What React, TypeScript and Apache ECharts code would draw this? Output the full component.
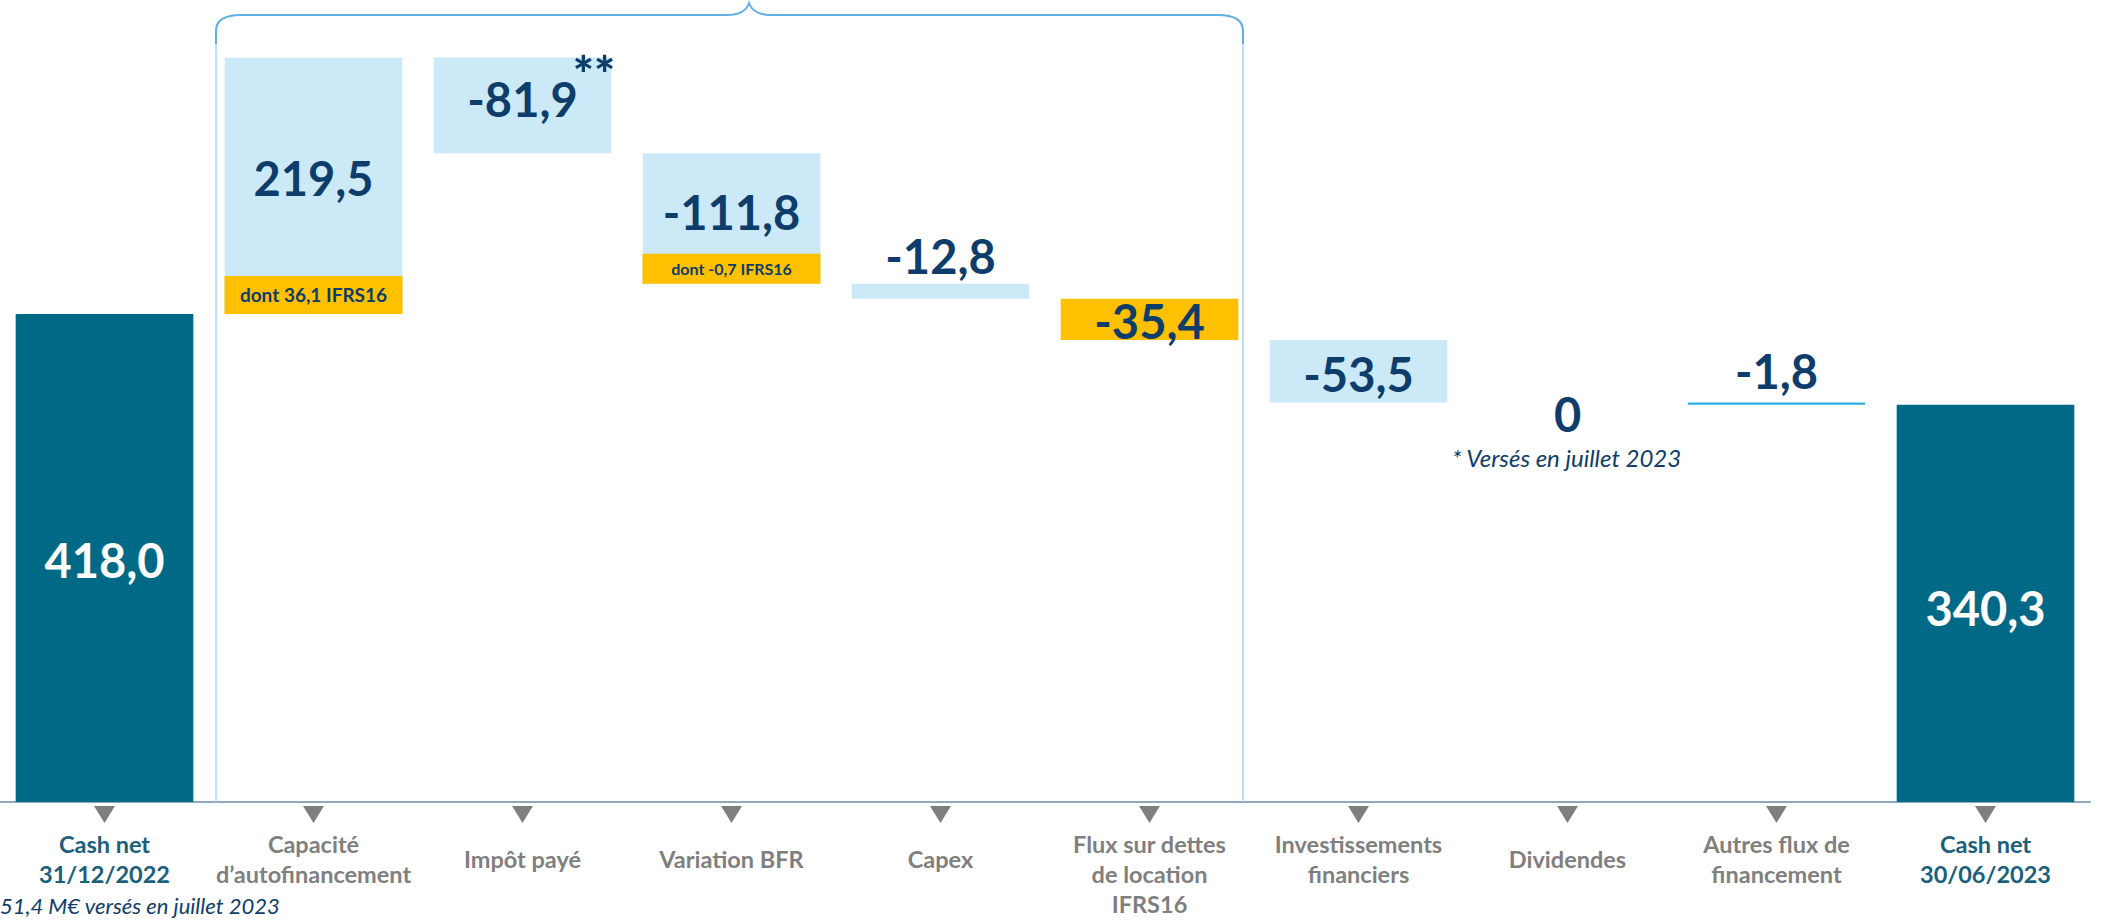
import React, { useEffect, useRef } from 'react';
import * as echarts from 'echarts';

// ---------- data ----------
const categories = [
  'Cash net\n31/12/2022',
  'Capacité\nd’autofinancement',
  'Impôt payé',
  'Variation BFR',
  'Capex',
  'Flux sur dettes\nde location\nIFRS16',
  'Investissements\nfinanciers',
  'Dividendes',
  'Autres flux de\nfinancement',
  'Cash net\n30/06/2023',
];
const values = [418.0, 219.5, -81.9, -111.8, -12.8, -35.4, -53.5, 0, -1.8, 340.3];
const isTotal = [true, false, false, false, false, false, false, false, false, true];
const barKinds = ['total', 'flow', 'flow', 'flow', 'flow', 'ifrs', 'flow', 'none', 'line', 'total'];
const ifrsNotes = ['', 'dont 36,1 IFRS16', '', 'dont -0,7 IFRS16', '', '', '', '', '', ''];

// ---------- styles ----------
const FONT = 'Lato, "Noto Sans", sans-serif';
const TEAL = '#006A86';
const LIGHT = '#CBE9F7';
const YELLOW = '#FFC000';
const LINEBLUE = '#29ABE2';
const NAVY = '#0E3D6B';
const GREY = '#7F7F7F';
const TEAL_TXT = '#1A5F7C';

const fmt = (v: number) => (v === 0 ? '0' : v.toFixed(1).replace('.', ','));

const BRACE_TOP_D =
  'M216 44 L216 31 Q216 15 241 15 L727 15 Q745 15 749 3 Q753 15 771 15 L1218 15 Q1243 15 1243 31 L1243 44';

let registered = false;

export default function App() {
  const ref = useRef<HTMLDivElement>(null);

  useEffect(() => {
    document.body.style.margin = '0';
    if (!registered) {
      echarts.graphic.registerShape('bracetop', echarts.graphic.extendPath(BRACE_TOP_D, {}) as any);
      registered = true;
    }
    const chart = echarts.init(ref.current!, undefined, { renderer: 'svg' });

    // waterfall geometry
    let running = 0;
    const bases: number[] = [];
    const heights: number[] = [];
    values.forEach((v, i) => {
      if (isTotal[i]) {
        bases.push(0);
        heights.push(v);
        running = v;
      } else {
        const next = running + v;
        bases.push(Math.min(running, next));
        heights.push(Math.abs(v));
        running = next;
      }
    });

    const colorOf = (k: string) =>
      k === 'total' ? TEAL : k === 'ifrs' ? YELLOW : k === 'line' ? LINEBLUE : k === 'none' ? 'transparent' : LIGHT;

    // label placement per category
    const placement: any[] = [
      { position: 'inside', offset: [0, 2] },
      { position: 'inside', offset: [0, -8] },
      { position: 'inside', offset: [0, -6] },
      { position: 'inside', offset: [0, -7] },
      { position: 'top', distance: 4 },
      { position: 'inside', offset: [0, 2] },
      { position: 'inside', offset: [0, 3] },
      { position: 'inside', offset: [0, 11] },
      { position: 'top', distance: 8 },
      { position: 'inside', offset: [0, 5] },
    ];

    const visibleData = heights.map((h, i) => ({
      value: h,
      itemStyle: {
        color: colorOf(barKinds[i]),
        borderColor: barKinds[i] === 'line' ? LINEBLUE : 'transparent',
        borderWidth: barKinds[i] === 'line' ? 1 : 0,
      },
      label: {
        show: true,
        ...placement[i],
        formatter: fmt(values[i]),
        color: isTotal[i] ? '#FFFFFF' : NAVY,
        fontFamily: FONT,
        fontWeight: 'bold',
        fontSize: 47,
      },
    }));

    const baseData = bases.map((b, i) => ({
      value: b,
      label: ifrsNotes[i]
        ? {
            show: true,
            position: 'top',
            distance: 0,
            formatter: ifrsNotes[i],
            backgroundColor: YELLOW,
            width: 178,
            height: i === 1 ? 38 : 30,
            lineHeight: i === 1 ? 38 : 30,
            align: 'center',
            color: NAVY,
            fontFamily: FONT,
            fontWeight: 'bold',
            fontSize: i === 1 ? 19 : 16,
          }
        : { show: false },
    }));

    const textStyleBase = { fontFamily: FONT, fontWeight: 'bold', fontSize: 23.5 };

    chart.setOption({
      animation: false,
      grid: { left: -3, right: 12, top: 8, bottom: 118, containLabel: false },
      xAxis: {
        type: 'category',
        data: categories,
        axisLine: { show: true, lineStyle: { color: '#8FA7BF', width: 2 } },
        axisTick: { show: false },
        axisLabel: {
          interval: 0,
          margin: 27,
          formatter: (val: string, idx: number) => {
            const lines = val.split('\n');
            const key = isTotal[idx] ? 't' : 'g';
            if (lines.length === 1) return `{${key}1|${lines[0]}}`;
            return lines.map((l) => `{${key}|${l}}`).join('\n');
          },
          rich: {
            g: { ...textStyleBase, color: GREY, lineHeight: 30 },
            g1: { ...textStyleBase, color: GREY, lineHeight: 60 },
            t: { ...textStyleBase, color: TEAL_TXT, lineHeight: 30 },
            t1: { ...textStyleBase, color: TEAL_TXT, lineHeight: 60 },
          },
        },
      },
      yAxis: { type: 'value', min: 0, max: 680, show: false, splitLine: { show: false } },
      series: [
        {
          type: 'bar',
          stack: 'w',
          barWidth: '85%',
          z: 3,
          itemStyle: { color: 'transparent' },
          data: baseData,
          silent: true,
        },
        {
          type: 'bar',
          stack: 'w',
          barWidth: '85%',
          z: 2,
          data: visibleData,
        },
        {
          type: 'custom',
          silent: true,
          clip: false,
          z: 5,
          data: categories.map((_, i) => [i, 0]),
          renderItem: (_p: any, api: any) => {
            const p = api.coord([api.value(0), 0]);
            return {
              type: 'polygon',
              shape: {
                points: [
                  [p[0] - 10.5, p[1] + 4],
                  [p[0] + 10.5, p[1] + 4],
                  [p[0], p[1] + 21],
                ],
              },
              style: { fill: GREY },
            };
          },
        },
      ],
      graphic: [
        {
          type: 'line',
          z: 1,
          silent: true,
          shape: { x1: 216, y1: 40, x2: 216, y2: 802 },
          style: { stroke: '#A6D6F2', lineWidth: 1.5 },
        },
        {
          type: 'line',
          z: 1,
          silent: true,
          shape: { x1: 1243, y1: 40, x2: 1243, y2: 802 },
          style: { stroke: '#A6D6F2', lineWidth: 1.5 },
        },
        {
          type: 'bracetop',
          x: 0,
          y: 0,
          z: 1,
          silent: true,
          style: { fill: 'none', stroke: '#5FB0E0', lineWidth: 2 },
        },
        {
          type: 'text',
          x: 594,
          y: 74,
          z: 100,
          silent: true,
          style: {
            text: '**',
            font: `900 50px ${FONT}`,
            fill: NAVY,
            textAlign: 'center',
            textVerticalAlign: 'middle',
          },
        },
        {
          type: 'text',
          x: 1452,
          y: 457,
          z: 100,
          silent: true,
          style: {
            text: '* Versés en juillet 2023',
            font: `italic 24px ${FONT}`,
            fill: NAVY,
            textAlign: 'left',
            textVerticalAlign: 'middle',
          },
        },
        {
          type: 'text',
          x: 0,
          y: 905,
          z: 100,
          silent: true,
          style: {
            text: '51,4 M€ versés en juillet 2023',
            font: `italic 22px ${FONT}`,
            fill: NAVY,
            textAlign: 'left',
            textVerticalAlign: 'middle',
          },
        },
      ],
    });

    return () => chart.dispose();
  }, []);

  return <div ref={ref} style={{ width: 2102, height: 920 }} />;
}
